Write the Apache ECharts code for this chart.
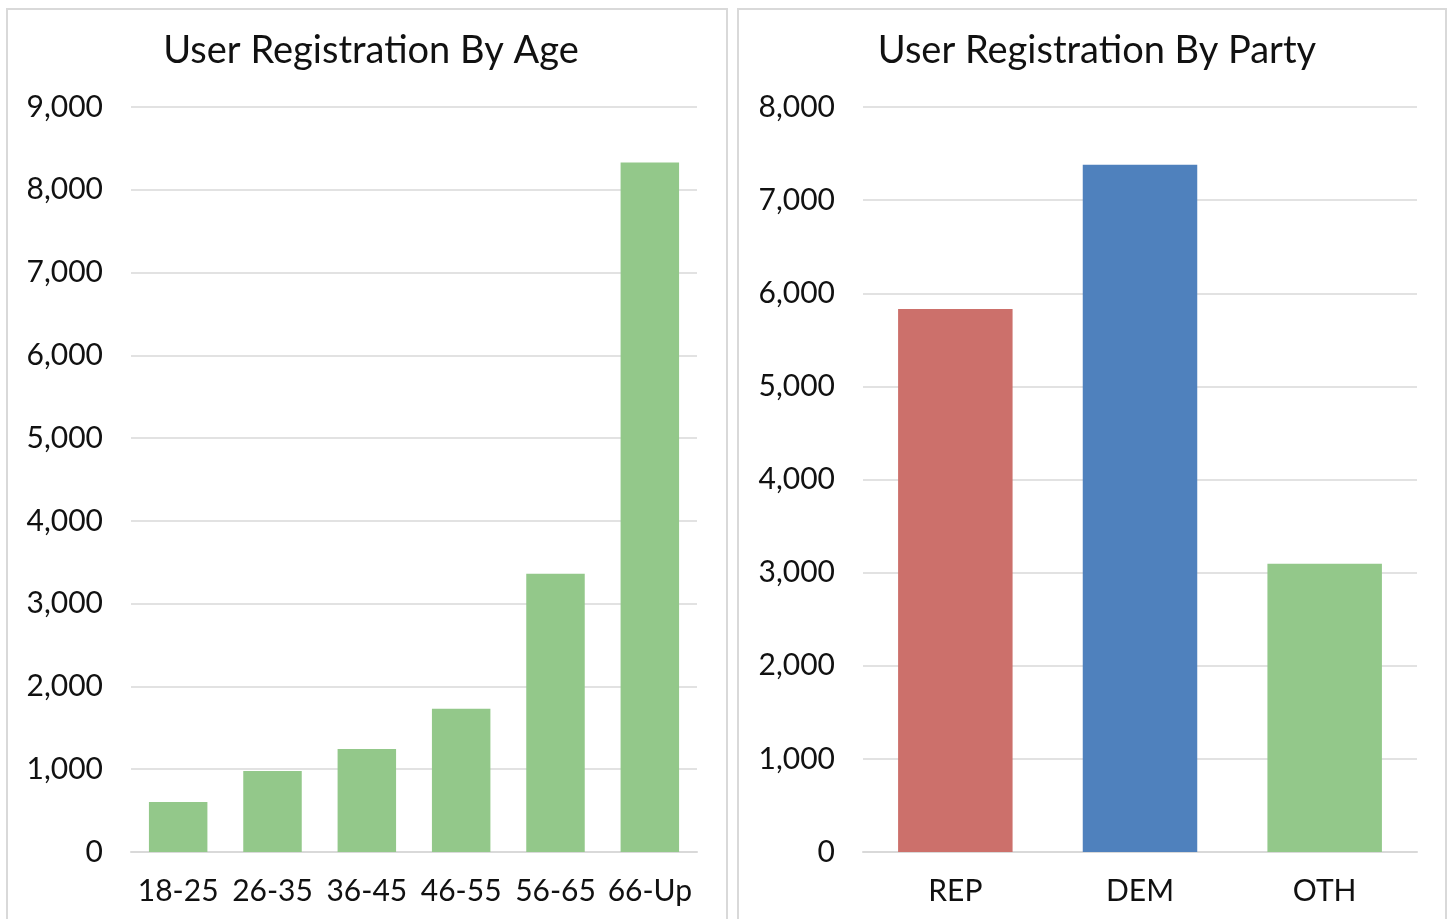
<!DOCTYPE html>
<html><head><meta charset="utf-8">
<script src="https://cdn.jsdelivr.net/npm/echarts@6/dist/echarts.min.js"></script>
<style>html,body{margin:0;padding:0;background:#fff}#c{width:1454px;height:919px}</style>
</head><body><div id="c"></div>
<script>
const ageCategories = ['18-25','26-35','36-45','46-55','56-65','66-Up'];
const ageValues = [605, 980, 1245, 1730, 3360, 8330];
const partyCategories = ['REP','DEM','OTH'];
const partyValues = [5830, 7380, 3095];
const partyColors = ['#cc706b','#4f81bd','#93c88a'];
const ageColor = '#93c88a';

const FONT = 'Lato, "Open Sans", sans-serif';
const chart = echarts.init(document.getElementById('c'), null, {renderer:'canvas'});
const axisLabelY = {color:'#111', fontSize:30, fontFamily:FONT, margin:28, formatter: v => v.toLocaleString('en-US')};
const axisLabelX = {color:'#111', fontSize:30, fontFamily:FONT, margin:24, interval:0};
chart.setOption({
  animation:false,
  graphic:[
    {type:'rect', shape:{x:7,y:9,width:720,height:930}, style:{fill:'none', stroke:'#d9d9d9', lineWidth:2}, z:-1},
    {type:'rect', shape:{x:738,y:9,width:708,height:930}, style:{fill:'none', stroke:'#d9d9d9', lineWidth:2}, z:-1}
  ],
  title:[
    {text:'User Registration By Age', left:366, top:27, textAlign:'center', textStyle:{fontFamily:FONT, fontSize:38, fontWeight:'normal', color:'#111'}},
    {text:'User Registration By Party', left:1092, top:27, textAlign:'center', textStyle:{fontFamily:FONT, fontSize:38, fontWeight:'normal', color:'#111'}}
  ],
  grid:[
    {left:131, right:757, top:107, bottom:67, containLabel:false},
    {left:863, right:37, top:107, bottom:67, containLabel:false}
  ],
  xAxis:[
    {type:'category', gridIndex:0, data:ageCategories, axisTick:{show:false}, axisLine:{lineStyle:{color:'#d9d9d9', width:2}}, axisLabel:axisLabelX},
    {type:'category', gridIndex:1, data:partyCategories, axisTick:{show:false}, axisLine:{lineStyle:{color:'#d9d9d9', width:2}}, axisLabel:axisLabelX}
  ],
  yAxis:[
    {type:'value', gridIndex:0, min:0, max:9000, interval:1000, axisLine:{show:false}, axisTick:{show:false}, splitLine:{lineStyle:{color:'#d9d9d9', width:1.5}}, axisLabel:axisLabelY},
    {type:'value', gridIndex:1, min:0, max:8000, interval:1000, axisLine:{show:false}, axisTick:{show:false}, splitLine:{lineStyle:{color:'#d9d9d9', width:1.5}}, axisLabel:axisLabelY}
  ],
  series:[
    {type:'bar', xAxisIndex:0, yAxisIndex:0, data:ageValues, barCategoryGap:'38%', itemStyle:{color:ageColor}},
    {type:'bar', xAxisIndex:1, yAxisIndex:1, data:partyValues.map((v,i)=>({value:v, itemStyle:{color:partyColors[i]}})), barCategoryGap:'38%'}
  ]
});
</script></body></html>
